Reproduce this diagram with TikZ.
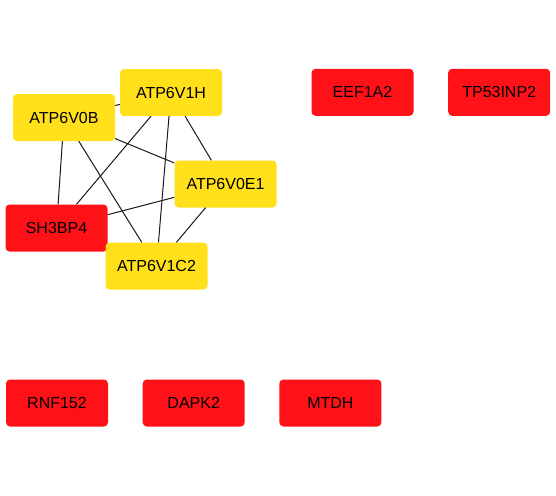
\documentclass[tikz,border=0pt]{standalone}
\usepackage{fontspec}
\setmainfont{Liberation Sans}
\usepackage{xcolor}
\usetikzlibrary{positioning}

\definecolor{geneyellow}{RGB}{255,224,26}
\definecolor{genered}{RGB}{255,17,24}

\begin{document}
\begin{tikzpicture}[
        x=1pt, y=-1pt,
        node distance=34.3pt,
        gene/.style={rectangle, rounded corners=4pt, minimum width=102pt, minimum height=47pt, inner sep=0pt, font=\fontsize{16}{19}\selectfont, text=black},
        hub/.style={gene, fill=geneyellow},
        other/.style={gene, fill=genered},
        link/.style={draw, line width=1pt, black!90}
    ]
    \useasboundingbox (0,0) rectangle (556,495);

    % Connected cluster
    \node [hub] (v0b) at (64,117.5) {ATP6V0B};
    \node [hub] (v1h) at (171,92.5) {ATP6V1H};
    \node [hub] (v0e1) at (225.5,184) {ATP6V0E1};
    \node [other] (sh3) at (56.5,228) {SH3BP4};
    \node [hub] (v1c2) at (156.5,266) {ATP6V1C2};

    % Single nodes, top row
    \node [other] (eef) at (362.5,92.3) {EEF1A2};
    \node [other, right=of eef] (tp53) {TP53INP2};

    % Single nodes, bottom row
    \node [other] (rnf) at (57,403) {RNF152};
    \node [other, right=of rnf] (dapk) {DAPK2};
    \node [other, right=of dapk] (mtdh) {MTDH};

    % Edges
    \path [link] (v0b) -- (v1h);
    \path [link] (v0b) -- (sh3);
    \path [link] (v0b) -- (v1c2);
    \path [link] (v0b) -- (v0e1);
    \path [link] (v1h) -- (sh3);
    \path [link] (v1h) -- (v1c2);
    \path [link] (v1h) -- (v0e1);
    \path [link] (v0e1) -- (sh3);
    \path [link] (v0e1) -- (v1c2);

\end{tikzpicture}
\end{document}
